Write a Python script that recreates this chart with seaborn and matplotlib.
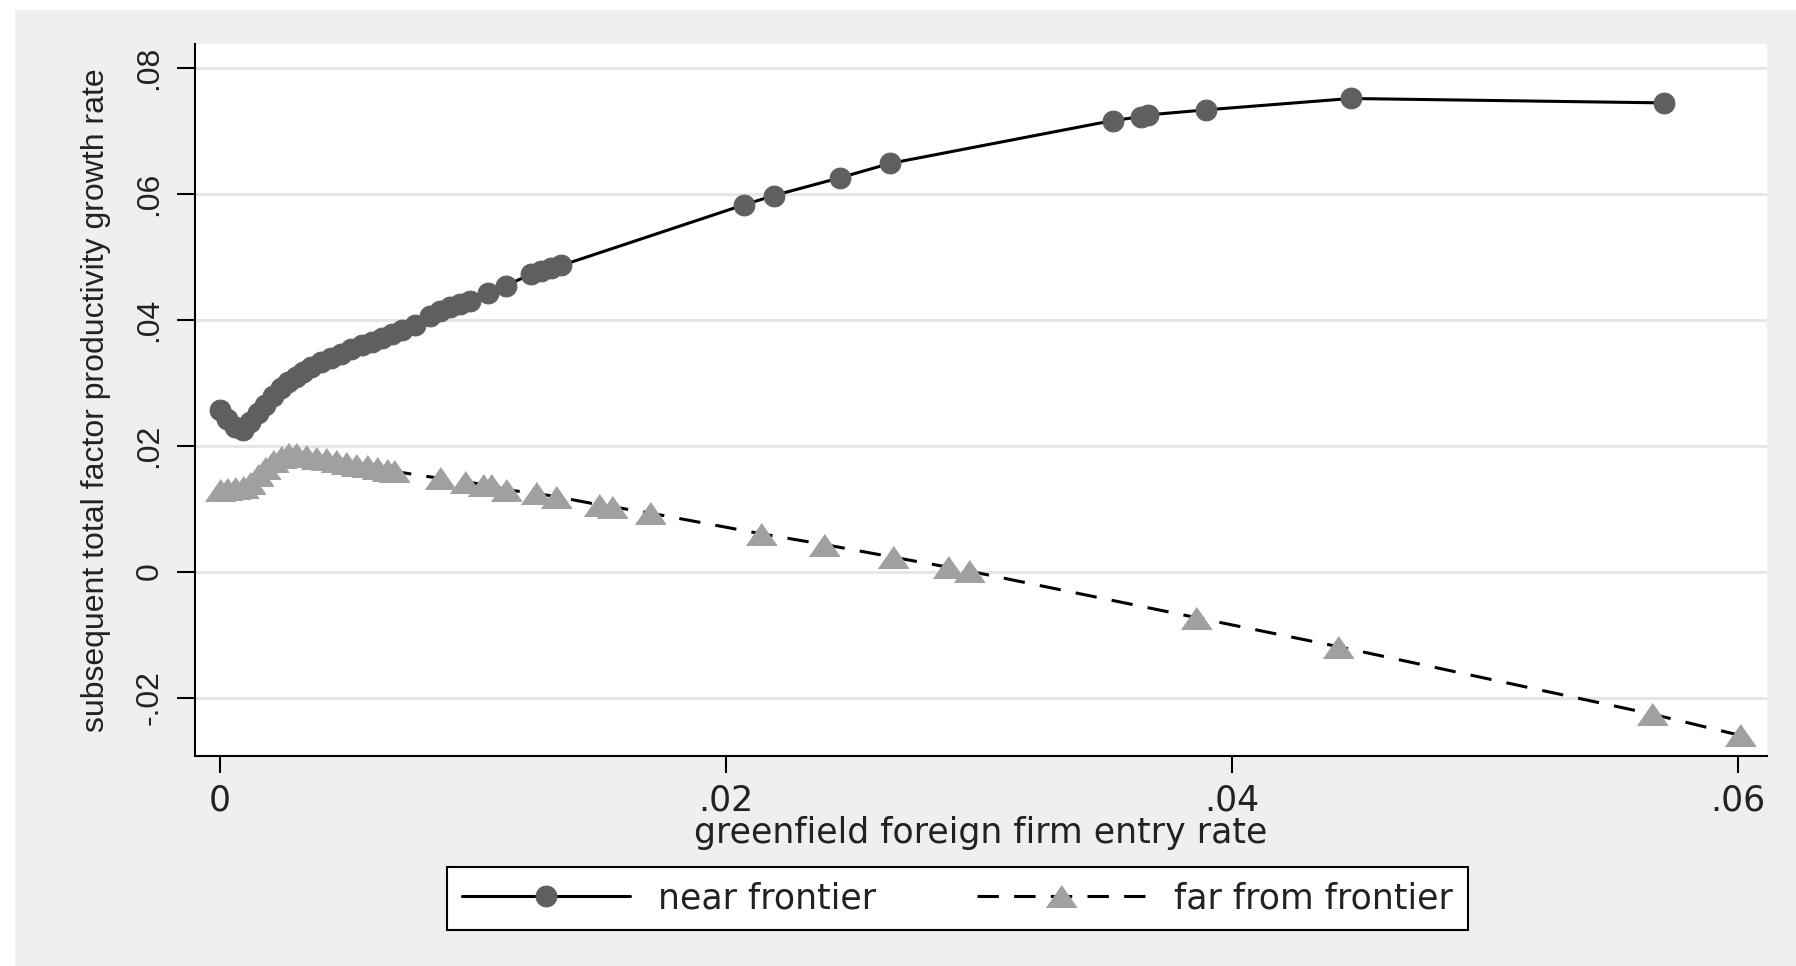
import matplotlib
matplotlib.use("Agg")
import matplotlib.pyplot as plt
from matplotlib.patches import Rectangle
import seaborn as sns

# values
near_x = [0.0000, 0.0003, 0.0006, 0.0009, 0.0012, 0.0015, 0.0018, 0.0021, 0.0024, 0.0027,
          0.0030, 0.0033, 0.0036, 0.0040, 0.0044, 0.0048, 0.0052, 0.0056, 0.0060, 0.0064,
          0.0068, 0.0072, 0.0077, 0.0083, 0.0087, 0.0091, 0.0095, 0.0099, 0.0106, 0.0113,
          0.0123, 0.0127, 0.0131, 0.0135, 0.0207, 0.0219, 0.0245, 0.0265, 0.0353, 0.0364,
          0.0367, 0.0390, 0.0447, 0.0571]
near_y = [0.0256, 0.0243, 0.0230, 0.0225, 0.0237, 0.0251, 0.0265, 0.0279, 0.0291, 0.0301,
          0.0309, 0.0317, 0.0324, 0.0332, 0.0339, 0.0346, 0.0353, 0.0359, 0.0365, 0.0371,
          0.0377, 0.0384, 0.0392, 0.0406, 0.0414, 0.0420, 0.0424, 0.0430, 0.0443, 0.0454,
          0.0472, 0.0477, 0.0482, 0.0486, 0.0582, 0.0597, 0.0625, 0.0648, 0.0716, 0.0722,
          0.0725, 0.0733, 0.0751, 0.0744]

far_x = [0.0000, 0.0003, 0.0006, 0.0009, 0.0012, 0.0015, 0.0018, 0.0021, 0.0024, 0.0027,
         0.0030, 0.0034, 0.0038, 0.0042, 0.0046, 0.0050, 0.0054, 0.0058, 0.0062, 0.0066,
         0.0069, 0.0087, 0.0097, 0.0104, 0.0107, 0.0113, 0.0125, 0.0133, 0.0150, 0.0155,
         0.0170, 0.0214, 0.0239, 0.0266, 0.0288, 0.0296, 0.0386, 0.0442, 0.0566, 0.0601]
far_y = [0.0130, 0.0131, 0.0132, 0.0134, 0.0141, 0.0153, 0.0165, 0.0175, 0.0182, 0.0187,
         0.0186, 0.0183, 0.0181, 0.0178, 0.0176, 0.0173, 0.0170, 0.0167, 0.0164, 0.0161,
         0.0159, 0.0148, 0.0143, 0.0138, 0.0137, 0.0130, 0.0124, 0.0119, 0.0106, 0.0103,
         0.0093, 0.0060, 0.0043, 0.0023, 0.0007, 0.0001, -0.0073, -0.0119, -0.0226, -0.0260]

x_ticks = [0, 0.02, 0.04, 0.06]
x_tick_labels = ["0", ".02", ".04", ".06"]
y_ticks = [-0.02, 0, 0.02, 0.04, 0.06, 0.08]
y_tick_labels = ["-.02", "0", ".02", ".04", ".06", ".08"]

sns.set_theme(style="white")
plt.rcParams["font.family"] = ["DejaVu Sans"]

W, H = 1796, 966
fig = plt.figure(figsize=(W / 100, H / 100), dpi=100)
fig.patch.set_facecolor("white")
fig.patches.append(Rectangle((15 / W, 0), 1 - 15 / W, 1 - 10 / H, transform=fig.transFigure,
                             facecolor="#efefef", edgecolor="none", zorder=-10))

ax = fig.add_axes([195 / W, 1 - 756 / H, (1767 - 195) / W, (756 - 44) / H])
ax.set_facecolor("white")

sns.lineplot(x=near_x, y=near_y, ax=ax, color="black", linewidth=2.2, errorbar=None,
             marker="o", markersize=15, markerfacecolor="#5f5f5f", markeredgecolor="#5f5f5f",
             label="near frontier", legend=False)
tri = [(-1, -0.72), (1, -0.72), (0, 0.72)]
sns.lineplot(x=far_x, y=far_y, ax=ax, color="black", linewidth=2.2, errorbar=None,
             linestyle=(0, (7, 5)), marker=tri, markersize=22,
             markerfacecolor="#a0a0a0", markeredgecolor="#a0a0a0",
             label="far from frontier", legend=False)

ax.set_xlim(-0.000984, 0.06116)
ax.set_ylim(-0.02927, 0.08375)

ax.yaxis.grid(True, color="#e6e6e6", linewidth=2.2)
ax.xaxis.grid(False)
ax.set_axisbelow(True)
for side in ["top", "right"]:
    ax.spines[side].set_visible(False)
for side in ["left", "bottom"]:
    ax.spines[side].set_color("black")
    ax.spines[side].set_linewidth(1.5)

ax.set_xticks(x_ticks, labels=x_tick_labels)
ax.set_yticks(y_ticks, labels=y_tick_labels)
ax.tick_params(axis="x", bottom=True, direction="out", length=12, width=1.5,
               color="black", pad=8, labelsize=25, labelcolor="#222222")
ax.tick_params(axis="y", left=True, direction="out", length=13, width=1.5,
               color="black", pad=9, labelsize=23, labelcolor="#222222")
for lbl in ax.get_yticklabels():
    lbl.set_rotation(90)
    lbl.set_va("center")
    lbl.set_family(["Liberation Sans", "DejaVu Sans"])

ax.set_xlabel("greenfield foreign firm entry rate", fontsize=25, color="#222222", va="top")
ax.xaxis.set_label_coords(0.5, -0.084)
ax.set_ylabel("subsequent total factor productivity growth rate", fontsize=23,
              color="#222222", family=["Liberation Sans", "DejaVu Sans"])
ax.yaxis.set_label_coords(-0.0534, 0.5)

handles, labels = ax.get_legend_handles_labels()
leg = fig.legend(handles, labels, loc="upper left", bbox_to_anchor=(447 / W, 1 - 867 / H),
                 ncol=2, fontsize=25, frameon=True, fancybox=False, framealpha=1,
                 handlelength=4.84, handletextpad=0.83, columnspacing=2.9,
                 borderpad=0.42, borderaxespad=0)
leg.get_frame().set_edgecolor("black")
leg.get_frame().set_linewidth(1.5)
leg.get_frame().set_facecolor("white")
for t in leg.get_texts():
    t.set_color("#222222")

fig.savefig("out.png", dpi=100)
plt.close(fig)
